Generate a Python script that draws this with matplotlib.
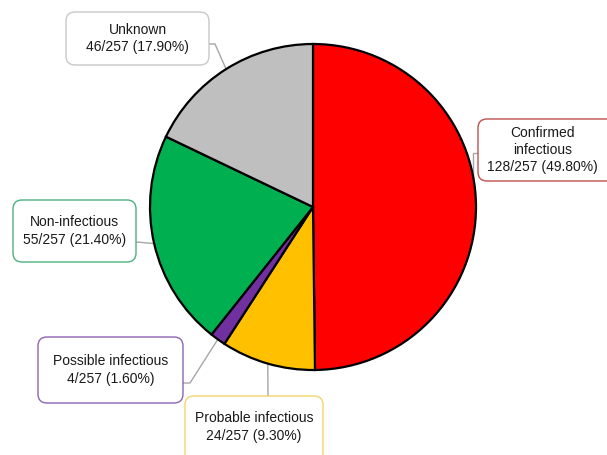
import matplotlib.pyplot as plt
import numpy as np
from matplotlib.patches import FancyBboxPatch

plt.rcParams['font.family'] = ['Liberation Sans', 'DejaVu Sans']

# data
categories = ['Confirmed\ninfectious', 'Probable infectious', 'Possible infectious',
              'Non-infectious', 'Unknown']
counts = [128, 24, 4, 55, 46]
total = 257
pct_labels = ['49.80%', '9.30%', '1.60%', '21.40%', '17.90%']
colors = ['#FF0000', '#FFC000', '#7030A0', '#00B050', '#BFBFBF']
edge_colors = ['#C0504D', '#F2D66B', '#8E63B5', '#4DB07F', '#C8C8C8']

W, H = 607, 455
cx, cy, r = 313, H - 207, 163

# label boxes (x0, x1, y0, y1) in pixel coords, y measured from top
boxes = [(478, 620, 119, 181),
         (185, 323, 396, 462),
         (38, 183, 337, 403),
         (13, 136, 200, 262),
         (66, 209, 12, 65)]
# where the leader leaves each box, plus an optional elbow
anchors = [((478, 153), (473, 153)),
           ((268, 396), None),
           ((183, 383), (190, 383)),
           ((136, 242), None),
           ((209, 44), (215, 44))]

fig = plt.figure(figsize=(W / 100, H / 100), dpi=100)
ax = fig.add_axes([0, 0, 1, 1])

wedges, _ = ax.pie(counts, colors=colors, startangle=90, counterclock=False,
                   center=(cx, cy), radius=r,
                   wedgeprops=dict(edgecolor='black', linewidth=1.6))
ax.set_xlim(0, W)
ax.set_ylim(0, H)
ax.set_aspect('equal')
ax.axis('off')

for i, w in enumerate(wedges):
    mid = np.deg2rad((w.theta1 + w.theta2) / 2)
    px, py = cx + r * np.cos(mid), cy + r * np.sin(mid)
    (ax0, ay0), elbow = anchors[i]
    xs, ys = [ax0], [H - ay0]
    if elbow is not None:
        if i == 0:
            xs.append(elbow[0]); ys.append(H - elbow[1])
            xs.append(elbow[0]); ys.append(py)
            px = elbow[0]
        else:
            xs.append(elbow[0]); ys.append(H - elbow[1])
    xs.append(px); ys.append(py)
    ax.plot(xs, ys, color='#A6A6A6', lw=1.0, zorder=0)

    x0, x1, y0, y1 = boxes[i]
    ax.add_patch(FancyBboxPatch((x0, H - y1), x1 - x0, y1 - y0,
                                boxstyle='round,pad=0,rounding_size=9',
                                fc='white', ec=edge_colors[i], lw=1.0, zorder=3))
    txt = f'{categories[i]}\n{counts[i]}/{total} ({pct_labels[i]})'
    tx = (x0 + min(x1, W)) / 2 if i == 0 else (x0 + x1) / 2
    if i == 1:
        ty = H - (y0 + 427 - 396)
    else:
        ty = H - (y0 + y1) / 2
    ax.text(tx, ty, txt, ha='center', va='center', fontsize=10,
            linespacing=1.3, color='#1a1a1a', zorder=4)

fig.savefig('out.png', dpi=100)
